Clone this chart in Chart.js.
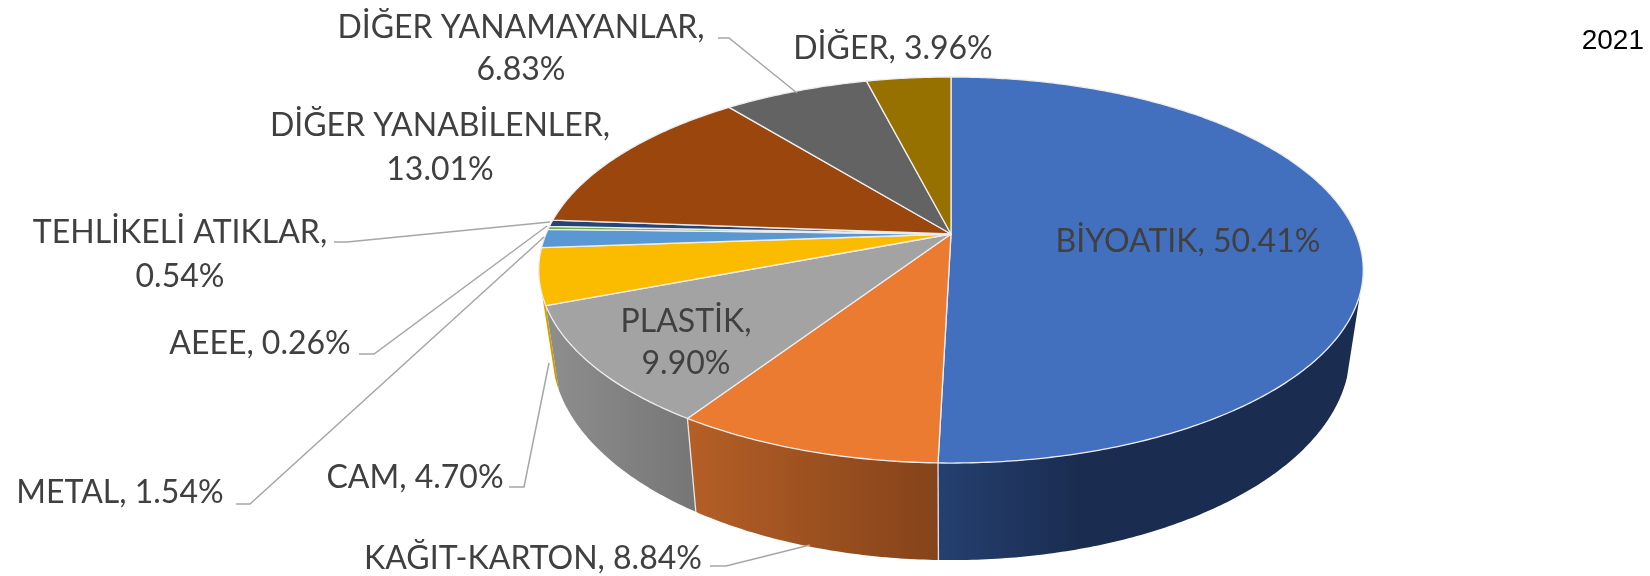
<!DOCTYPE html>
<html>
<head>
<meta charset="utf-8">
<title>2021</title>
<script src="https://cdn.jsdelivr.net/npm/chart.js@4/dist/chart.umd.js"></script>
<style>
    html, body { margin: 0; padding: 0; background: #fff; }
    canvas { display: block; }
</style>
</head>
<body>
<canvas id="wasteChart" width="1650" height="576"></canvas>
<script>
const titleText = '2021';
const categories = ['BİYOATIK', 'KAĞIT-KARTON', 'PLASTİK', 'CAM', 'METAL', 'AEEE', 'TEHLİKELİ ATIKLAR', 'DİĞER YANABİLENLER', 'DİĞER YANAMAYANLAR', 'DİĞER'];
const shares = [50.41, 8.84, 9.90, 4.70, 1.54, 0.26, 0.54, 13.01, 6.83, 3.96];
const sliceColors = ['#4270BF', '#EA7B30', '#A3A3A3', '#FBBC00', '#5A98D4', '#70AD47', '#264478', '#9A460D', '#636363', '#967100'];
// renkler soldan saga, yan yuzey icin
const wallColors = [
    ['#253F70', '#1A2D50', '#1A2D50', '#1A2D50'],
    ['#B55F26', '#84431A'],
    ['#8E8E8E', '#767676'],
    ['#E0A800', '#C49300'],
    ['#46779F', '#46779F'],
    ['#558336', '#558336'],
    ['#1D345B', '#1D345B'],
    ['#78370A', '#78370A'],
    ['#4B4B4B', '#4B4B4B'],
    ['#745700', '#745700']
];

// etiket yerleri: x, y satir ortalari
const labelSpots = [
    { x: 1188, ys: [242] },
    { x: 533, ys: [559] },
    { x: 686, ys: [322, 364] },
    { x: 415, ys: [478] },
    { x: 120, ys: [493] },
    { x: 260, ys: [344] },
    { x: 180, ys: [233, 277] },
    { x: 440, ys: [126, 170] },
    { x: 521, ys: [28, 70] },
    { x: 893, ys: [49] }
];
const leaderLines = [
    [[710, 566], [726, 566], [810, 545]],
    [[509, 487], [524, 487], [549, 363]],
    [[236, 504], [250, 504], [544, 237]],
    [[359, 354], [374, 354], [547, 226]],
    [[334, 242], [347, 242], [550, 222]],
    [[718, 38], [729, 38], [797, 93]]
];

// perspektif: ust yuz ve alt yuz
const view = { cx: 951, cy: 234, a: 405, b: 186.3, p: 0.1866, depth: 78.5, shrinkX: 0.968, growY: 1.081, wallFrom: 0.3 };

function topPoint(angle) {
    const u = Math.cos(angle), v = Math.sin(angle), d = 1 - view.p * v;
    return [view.cx + view.a * u / d, view.cy + view.b * v / d];
}

function bottomPoint(angle) {
    const u = Math.cos(angle), v = Math.sin(angle), d = 1 - view.p * v;
    return [view.cx + view.shrinkX * view.a * u / d, view.cy + view.depth + view.growY * view.b * v / d];
}

function sampleAngles(start, end) {
    const n = Math.max(2, Math.ceil((end - start) / 0.01));
    const list = [];
    for (let i = 0; i <= n; i++) list.push(start + (end - start) * i / n);
    return list;
}

// dilimi duz daire yerine egik yuzeye ciz
Chart.ArcElement.prototype.draw = function (ctx) {
    const { startAngle, endAngle } = this.getProps(['startAngle', 'endAngle']);
    ctx.save();
    ctx.beginPath();
    ctx.moveTo(view.cx, view.cy);
    sampleAngles(startAngle, endAngle).forEach(a => {
        const p = topPoint(a);
        ctx.lineTo(p[0], p[1]);
    });
    ctx.closePath();
    ctx.fillStyle = this.options.backgroundColor;
    ctx.fill();
    ctx.strokeStyle = this.options.borderColor;
    ctx.lineWidth = this.options.borderWidth;
    ctx.lineJoin = 'round';
    ctx.stroke();
    ctx.restore();
};

const sideWalls = {
    id: 'sideWalls',
    beforeDatasetsDraw(chart) {
        const ctx = chart.ctx;
        chart.getDatasetMeta(0).data.forEach((arc, i) => {
            // sadece one bakan kisim
            const front = sampleAngles(arc.startAngle, arc.endAngle).filter(a => Math.sin(a) >= view.wallFrom);
            if (front.length < 2) return;
            const upper = front.map(topPoint);
            const lower = front.map(bottomPoint);
            const xs = upper.concat(lower).map(p => p[0]);
            const grad = ctx.createLinearGradient(Math.min(...xs), 0, Math.max(...xs), 0);
            wallColors[i].forEach((c, k) => grad.addColorStop(k / (wallColors[i].length - 1), c));
            ctx.save();
            ctx.beginPath();
            upper.forEach(p => ctx.lineTo(p[0], p[1]));
            lower.slice().reverse().forEach(p => ctx.lineTo(p[0], p[1]));
            ctx.closePath();
            ctx.fillStyle = grad;
            ctx.fill();
            const edgeTop = topPoint(arc.startAngle), edgeBottom = bottomPoint(arc.startAngle);
            if (Math.sin(arc.startAngle) > 0.4) {
                ctx.beginPath();
                ctx.moveTo(edgeTop[0], edgeTop[1]);
                ctx.lineTo(edgeBottom[0], edgeBottom[1]);
                ctx.strokeStyle = '#E6E6E6';
                ctx.lineWidth = 1.3;
                ctx.stroke();
            }
            ctx.restore();
        });
    }
};

const pieLabels = {
    id: 'pieLabels',
    afterDatasetsDraw(chart) {
        const ctx = chart.ctx;
        ctx.save();
        ctx.strokeStyle = '#A6A6A6';
        ctx.lineWidth = 1.5;
        leaderLines.forEach(line => {
            ctx.beginPath();
            line.forEach(p => ctx.lineTo(p[0], p[1]));
            ctx.stroke();
        });
        ctx.fillStyle = '#404040';
        ctx.font = '32px Lato';
        ctx.textAlign = 'center';
        ctx.textBaseline = 'middle';
        categories.forEach((name, i) => {
            const pct = shares[i].toFixed(2) + '%';
            const spot = labelSpots[i];
            const lines = spot.ys.length > 1 ? [name + ',', pct] : [name + ', ' + pct];
            lines.forEach((t, k) => ctx.fillText(t, spot.x, spot.ys[k]));
        });
        ctx.restore();
    }
};

new Chart(document.getElementById('wasteChart'), {
    type: 'pie',
    data: {
        labels: categories,
        datasets: [{
            data: shares,
            backgroundColor: sliceColors,
            borderColor: '#EDEDED',
            borderWidth: 1.3
        }]
    },
    plugins: [sideWalls, pieLabels],
    options: {
        responsive: false,
        animation: false,
        layout: { padding: { right: 6 } },
        plugins: {
            legend: { display: false },
            tooltip: { enabled: false },
            title: {
                display: true,
                text: titleText,
                align: 'end',
                color: '#000',
                font: { family: 'Liberation Sans', size: 28, weight: 'normal' },
                padding: { top: 24, bottom: 10 }
            }
        }
    }
});
</script>
</body>
</html>
